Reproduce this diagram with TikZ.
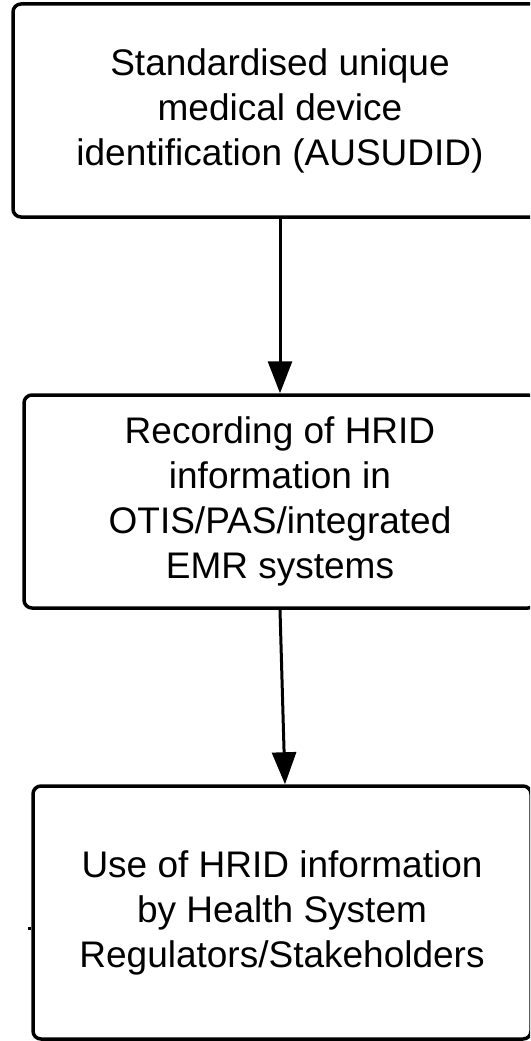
\documentclass[tikz,border=0pt]{standalone}
\usepackage{fontspec}
\setmainfont{Liberation Sans}
\usetikzlibrary{arrows.meta,calc}

\tikzset{
  stepbox/.style={draw=black, line width=3.5pt, rounded corners=8pt, inner sep=0pt,
    align=center, font=\fontsize{37}{45}\selectfont},
  flow/.style={line width=3pt, -{Triangle[length=32pt,width=24pt]}},
}

\begin{document}
\begin{tikzpicture}[x=1pt,y=-1pt]
  \useasboundingbox (0,0) rectangle (530,1041);
  \clip (0,0) rectangle (530,1041);

  \node[stepbox, minimum width=534pt, minimum height=213pt] (b1) at (280,110.5)
    {Standardised unique\\medical device\\identification (AUSUDID)};
  \node[stepbox, minimum width=512pt, minimum height=213pt] (b2) at (280,501.5)
    {Recording of HRID\\information in\\OTIS/PAS/integrated\\EMR systems};
  \node[stepbox, minimum width=498pt, minimum height=253pt] (b3) at (282,912.5)
    {Use of HRID information\\by Health System\\Regulators/Stakeholders};

  \draw[flow] (b1.south) -- (b2.north);
  \draw[flow] (b2.south) -- ($(b3.north)+(3,0)$);

  % short stub on the left side of the last box
  \coordinate (stub) at ($(b3.west)+(-3,15.5)$);
  \draw[line width=3pt] (stub) -- (b3.west |- stub);
\end{tikzpicture}
\end{document}
